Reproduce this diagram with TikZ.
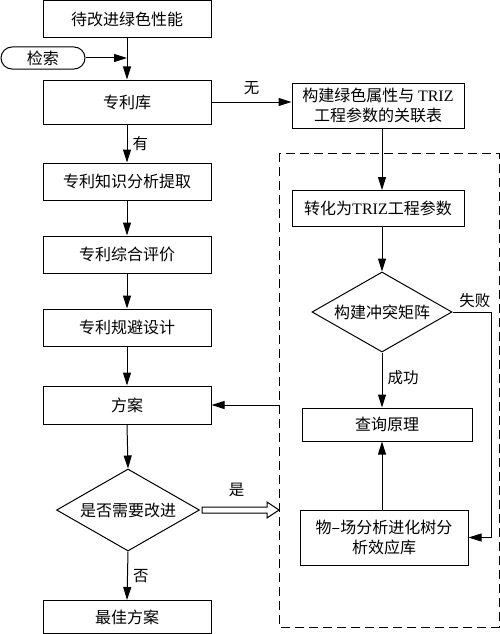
\documentclass[tikz,border=0pt]{standalone}
\usepackage{fontspec}
\setmainfont{Liberation Serif}
\newfontfamily\cjk{Noto Sans CJK SC}
\usetikzlibrary{arrows.meta,shapes.geometric,calc}
\newcommand{\zbox}[1]{\smash{\makebox[0pt]{#1}}}
\begin{document}
\begin{tikzpicture}[x=1pt,y=-1pt,
  every node/.style={font=\cjk\fontsize{16}{20}\selectfont},
  box/.style={draw,line width=1pt,rectangle,minimum width=168pt,inner sep=0pt,align=center},
  dia/.style={draw,line width=1pt,diamond,inner sep=0pt},
  lbl/.style={font=\cjk\fontsize{15.5}{18}\selectfont,inner sep=0pt},
  arr/.style={line width=1pt,-{Triangle[length=13pt,width=8pt]}},
  ln/.style={line width=1pt}]
\useasboundingbox (0,0) rectangle (500,634);
% left column
\node[box,minimum height=37pt] (b1) at (127,19.5) {待改进绿色性能};
\node[draw,line width=1pt,rounded corners=11pt,minimum width=84pt,minimum height=22pt,inner sep=0pt] (s) at (43,58) {检索};
\node[box,minimum height=44pt] (b2) at (127,102) {专利库};
\node[box,minimum height=37pt] (b3) at (127,181.5) {专利知识分析提取};
\node[box,minimum height=37pt] (b4) at (127,254.5) {专利综合评价};
\node[box,minimum height=37pt] (b5) at (127,327.5) {专利规避设计};
\node[box,minimum height=38pt] (fa) at (127,405) {方案};
\node[dia,minimum width=143pt,minimum height=82pt] (d2) at (128,510) {};
\node at (d2.center) {是否需要改进};
\node[box,minimum height=33pt] (best) at (127,617) {最佳方案};
% right column
\node[box,minimum width=172pt,minimum height=45pt] (tb) at (378,105.5) {构建绿色属性与 {\rmfamily TRIZ}\\工程参数的关联表};
\node[box,minimum width=172pt,minimum height=36pt] (zh) at (378,208.5) {转化为{\rmfamily TRIZ}工程参数};
\node[dia,minimum width=140pt,minimum height=80pt] (d1) at (382,312) {};
\node at (d1.center) {构建冲突矩阵};
\node[box,minimum width=170pt,minimum height=33pt] (cx) at (387,424.5) {查询原理};
\node[box,minimum width=168pt,minimum height=55pt] (wc) at (384,537.5) {物–场分析进化树分\\析效应库};
% dashed region
\coordinate (dNW) at (279,153);
\coordinate (dSE) at (499,627);
\draw[line width=1pt,dash pattern=on 9pt off 5pt] (dNW) rectangle (dSE);
% connectors left
\draw[arr] (b1.south) -- (b2.north);
\draw[arr] (s.east) -- (s.east -| b1.south);
\draw[arr] (b2.south) -- node[lbl,right=5pt] {有} (b3.north);
\draw[arr] (b3.south) -- (b4.north);
\draw[arr] (b4.south) -- (b5.north);
\draw[arr] (b5.south) -- (fa.north);
\draw[arr] (fa.south) -- (d2.north);
\draw[arr] (d2.south) -- node[lbl,right=5pt] {否} (best.north);
% connectors right
\draw[arr] (b2.east) -- node[lbl,above=7pt] {无} (b2.east -| tb.west);
\draw[arr] (tb.south -| d1.north) -- (zh.north -| d1.north);
\draw[arr] (zh.south -| d1.north) -- (d1.north);
\draw[arr] (d1.south) -- node[lbl,right=5pt,pos=0.45] {成功} (d1.south |- cx.north);
\draw[arr] (d1.south |- wc.north) -- (d1.south |- cx.south);
\draw[arr] (d1.east) -- ++(39,0) coordinate (fr) |- (wc.east);
\node[lbl,anchor=south east] at ($(fr)+(-1,-4)$) {失败};
\draw[arr] (dNW |- fa.east) -- (fa.east);
% hollow arrow
\coordinate (hs) at ($(d2.east)+(2,0)$);
\coordinate (he) at (dNW |- d2.east);
\draw[line width=1pt,fill=white] ($(hs)+(0,-3)$) -- ($(he)+(-12,-3)$) -- ($(he)+(-12,-8)$) -- (he) -- ($(he)+(-12,8)$) -- ($(he)+(-12,3)$) -- ($(hs)+(0,3)$) -- cycle;
\node[lbl] at ($(hs)!0.45!(he)+(0,-20)$) {是};
\end{tikzpicture}
\end{document}
